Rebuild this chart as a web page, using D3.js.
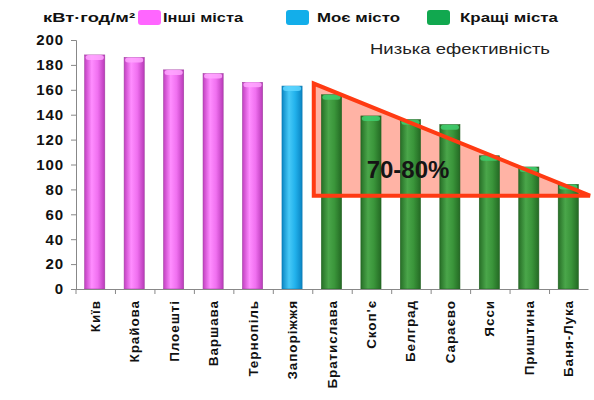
<!DOCTYPE html>
<html>
<head>
<meta charset="utf-8">
<script src="https://cdn.jsdelivr.net/npm/d3@7"></script>
<style>
  body { margin: 0; background: #fff; }
  text { font-family: "Liberation Sans", Arial, sans-serif; }
</style>
</head>
<body>
<div id="container"></div>
<script>
/* data */
const cities = ["Київ", "Крайова", "Плоешті", "Варшава", "Тернопіль", "Запоріжжя",
  "Братислава", "Скоп'є", "Белград", "Сараєво", "Ясси", "Приштина", "Баня-Лука"];
const values = [188, 186, 176, 173, 166, 163, 156, 139, 136, 132, 107, 98, 84];
const groups = ["other", "other", "other", "other", "other", "mine",
  "best", "best", "best", "best", "best", "best", "best"];
const yTicks = [0, 20, 40, 60, 80, 100, 120, 140, 160, 180, 200];
const legendLabels = ["Інші міста", "Моє місто", "Кращі міста"];
const unitLabel = "кВт·год/м²";
const noteLabel = "Низька ефективність";
const zoneLabel = "70-80%";
const zoneTop = 165, zoneBottom = 75;   // triangle range in kWh/m²

/* size */
const width = 594, height = 400,
  margin = {top: 40, left: 75, bottom: 111, right: 6};

const svg = d3.select("#container").append("svg")
  .attr("width", width)
  .attr("height", height);

/* scales */
const xScale = d3.scaleBand()
  .domain(cities)
  .range([margin.left, width - margin.right])
  .paddingInner(0.49)
  .paddingOuter(0.245);

const yScale = d3.scaleLinear()
  .domain([0, 200])
  .range([height - margin.bottom, margin.top]);

// left border of a category's band
const bandLeft = d => xScale(d) - xScale.step() * 0.245;

/* gradients for the cylinder look */
const defs = svg.append("defs");
const grads = {
  other: ["#c23fc2", "#ff8dff", "#f070f0", "#b93ab9"],
  mine:  ["#0a86c4", "#47c9f7", "#22b2ec", "#0a84c2"],
  best:  ["#276f27", "#4aa64a", "#3a953a", "#246a24"]
};
Object.entries(grads).forEach(([k, c]) => {
  const g = defs.append("linearGradient").attr("id", "g-" + k)
    .attr("x1", "0%").attr("x2", "100%").attr("y1", "0%").attr("y2", "0%");
  [0, 35, 65, 100].forEach((o, i) => g.append("stop").attr("offset", o + "%").attr("stop-color", c[i]));
});
const capColor = {other: "#ffa6ff", mine: "#5fd6ff", best: "#3fcf70"};
const edgeColor = {other: "#a040a0", mine: "#0b78b0", best: "#1f5f1f"};
const legendColor = {other: "#ff66ff", mine: "#13aeea", best: "#11a84f"};

/* triangle zone: fill sits behind the bars, outline on top */
const zx0 = bandLeft("Братислава") + 2, zx1 = width - 4;
const zonePath = `M${zx0},${yScale(zoneTop)} L${zx0},${yScale(zoneBottom)} L${zx1},${yScale(zoneBottom)} Z`;
svg.append("path")
  .attr("d", zonePath)
  .attr("fill", "#ffb3a5");

/* bars */
const bars = svg.selectAll(".bar")
  .data(cities.map((c, i) => ({city: c, value: values[i], group: groups[i]})))
  .join("g").attr("class", "bar");

bars.append("rect")
  .attr("x", d => xScale(d.city))
  .attr("y", d => yScale(d.value))
  .attr("width", xScale.bandwidth())
  .attr("height", d => yScale(0) - yScale(d.value))
  .attr("fill", d => "url(#g-" + d.group + ")")
  .attr("stroke", d => edgeColor[d.group])
  .attr("stroke-width", 0.6);

bars.append("rect")
  .attr("x", d => xScale(d.city) + 1)
  .attr("y", d => yScale(d.value))
  .attr("width", xScale.bandwidth() - 2)
  .attr("height", 5)
  .attr("rx", 3)
  .attr("fill", d => capColor[d.group])
  .attr("opacity", 0.85);

svg.append("path")
  .attr("d", zonePath)
  .attr("fill", "none")
  .attr("stroke", "#ff3a12")
  .attr("stroke-width", 4)
  .attr("stroke-linejoin", "miter");

svg.append("text")
  .attr("x", 408).attr("y", yScale(89))
  .attr("text-anchor", "middle")
  .attr("font-size", 24).attr("font-weight", "bold")
  .attr("fill", "#151515")
  .text(zoneLabel);

/* axes */
const yAxis = svg.append("g")
  .attr("transform", `translate(${margin.left + 1},0)`)
  .call(d3.axisLeft(yScale).tickValues(yTicks).tickSize(5).tickPadding(7));
yAxis.select(".domain").attr("stroke", "#888");
yAxis.selectAll(".tick line").attr("stroke", "#888");
yAxis.selectAll("text")
  .attr("font-size", 15).attr("font-weight", "bold")
  .attr("letter-spacing", 0.9)
  .attr("fill", "#111")
  .attr("font-family", "Liberation Sans, Arial, sans-serif");

const xAxis = svg.append("g")
  .attr("transform", `translate(0,${yScale(0)})`)
  .call(d3.axisBottom(xScale).tickSize(0).tickSizeOuter(0).tickFormat(""));
xAxis.select(".domain").attr("stroke", "#888");
xAxis.selectAll(".tick").remove();
// ticks at the band borders
xAxis.selectAll(".sep")
  .data(cities)
  .join("line").attr("class", "sep")
  .attr("x1", d => bandLeft(d) + 1)
  .attr("x2", d => bandLeft(d) + 1)
  .attr("y1", 0).attr("y2", 5)
  .attr("stroke", "#888");

svg.selectAll(".xlabel")
  .data(cities)
  .join("text").attr("class", "xlabel")
  .attr("transform", d => `translate(${xScale(d) + xScale.bandwidth() / 2 + 5},${yScale(0) + 11}) rotate(-90)`)
  .attr("text-anchor", "end")
  .attr("font-size", 13.5).attr("font-weight", "bold")
  .attr("letter-spacing", 0.9)
  .attr("fill", "#111")
  .text(d => d);

/* legend */
svg.append("text")
  .attr("x", 43).attr("y", 22)
  .attr("font-size", 13.5).attr("font-weight", "bold").attr("fill", "#111")
  .attr("textLength", 92).attr("lengthAdjust", "spacingAndGlyphs")
  .text(unitLabel);

const legendX = [[138, 163, 80], [286, 317, 83], [427, 460, 98]];
["other", "mine", "best"].forEach((k, i) => {
  svg.append("rect")
    .attr("x", legendX[i][0]).attr("y", 10)
    .attr("width", 23).attr("height", 15).attr("rx", 3)
    .attr("fill", legendColor[k]);
  svg.append("text")
    .attr("x", legendX[i][1]).attr("y", 22)
    .attr("font-size", 13.5).attr("font-weight", "bold").attr("fill", "#111")
    .attr("textLength", legendX[i][2]).attr("lengthAdjust", "spacingAndGlyphs")
    .text(legendLabels[i]);
});

svg.append("text")
  .attr("x", 370).attr("y", 54)
  .attr("font-size", 14.5).attr("fill", "#222")
  .attr("textLength", 180).attr("lengthAdjust", "spacingAndGlyphs")
  .text(noteLabel);
</script>
</body>
</html>
